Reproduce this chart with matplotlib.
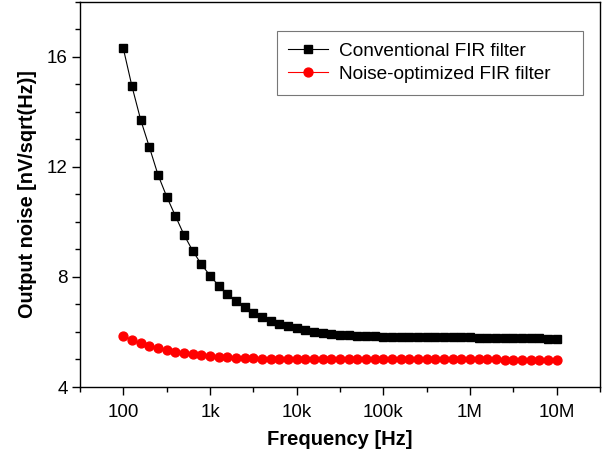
import numpy as np
import matplotlib
matplotlib.use("Agg")
import matplotlib.pyplot as plt
from matplotlib.ticker import FixedLocator, FixedFormatter, MultipleLocator

plt.rcParams["font.family"] = ["Liberation Sans", "DejaVu Sans"]

# 10 points per decade, 100 Hz .. 10 MHz
freq_exp = [2.0 + i / 10 for i in range(51)]
freq = [10 ** e for e in freq_exp]

conventional = [
    16.30, 14.92, 13.71, 12.72, 11.71, 10.92, 10.22, 9.53, 8.95, 8.46,
    8.05, 7.68, 7.37, 7.13, 6.90, 6.70, 6.55, 6.40, 6.30, 6.21,
    6.13, 6.06, 6.01, 5.96, 5.93, 5.90, 5.88, 5.87, 5.85, 5.84,
    5.83, 5.82, 5.82, 5.81, 5.81, 5.81, 5.80, 5.80, 5.80, 5.80,
    5.80, 5.79, 5.79, 5.79, 5.78, 5.78, 5.77, 5.77, 5.77, 5.76,
    5.76,
]
optimized = [
    5.87, 5.71, 5.59, 5.49, 5.42, 5.35, 5.27, 5.22, 5.19, 5.15,
    5.13, 5.10, 5.08, 5.07, 5.05, 5.04, 5.03, 5.03, 5.02, 5.02,
    5.02, 5.02, 5.01, 5.01, 5.01, 5.01, 5.01, 5.01, 5.01, 5.01,
    5.01, 5.01, 5.01, 5.01, 5.00, 5.00, 5.00, 5.00, 5.00, 5.00,
    5.00, 5.00, 5.00, 5.00, 4.99, 4.99, 4.99, 4.99, 4.99, 4.99,
    4.99,
]

xtick_vals = [1e2, 1e3, 1e4, 1e5, 1e6, 1e7]
xtick_labels = ["100", "1k", "10k", "100k", "1M", "10M"]
ytick_vals = [4, 8, 12, 16]

fig = plt.figure(figsize=(6.10, 4.55), dpi=100)
ax = fig.add_axes([80 / 610, 68 / 455, 520 / 610, 385.3 / 455])

ax.plot(freq, conventional, color="black", lw=0.8, marker="s", ms=5.8,
        mec="black", mfc="black", label="Conventional FIR filter")
ax.plot(freq, optimized, color="red", lw=0.8, marker="o", ms=6.4,
        mec="red", mfc="red", label="Noise-optimized FIR filter")

ax.set_xscale("log")
ax.set_xlim(10 ** 1.5, 10 ** 7.5)
ax.set_ylim(4, 18)

ax.xaxis.set_major_locator(FixedLocator(xtick_vals))
ax.xaxis.set_major_formatter(FixedFormatter(xtick_labels))
ax.xaxis.set_minor_locator(FixedLocator([v * np.sqrt(10) for v in [10] + xtick_vals]))
ax.xaxis.set_minor_formatter(FixedFormatter([]))
ax.yaxis.set_major_locator(FixedLocator(ytick_vals))
ax.yaxis.set_minor_locator(MultipleLocator(1))

ax.tick_params(which="major", direction="out", length=6, width=1.0,
               labelsize=13.5, top=False, right=False)
ax.tick_params(axis="x", which="major", pad=6)
ax.tick_params(axis="y", which="major", pad=3)
ax.tick_params(which="minor", direction="out", length=3.5, width=1.0,
               top=False, right=False)
for s in ax.spines.values():
    s.set_linewidth(1.0)

ax.set_xlabel("Frequency [Hz]", fontsize=14.5, fontweight="bold", labelpad=7)
ax.set_ylabel("Output noise [nV/sqrt(Hz)]", fontsize=14.3, fontweight="bold", labelpad=7)

# legend box stretched to the reference width
leg = ax.legend(loc="upper left", bbox_to_anchor=(0.379, 0.5, 0.588, 0.424),
                mode="expand", borderaxespad=0,
                fontsize=13.7, fancybox=False, edgecolor="#777777", framealpha=1,
                handlelength=2.05, handletextpad=0.58, borderpad=0.6,
                labelspacing=0.32)
leg.get_frame().set_linewidth(0.8)

fig.savefig("out.png", dpi=100)
